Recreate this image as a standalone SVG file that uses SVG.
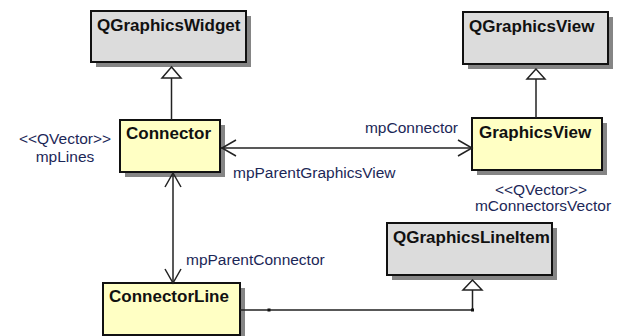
<svg xmlns="http://www.w3.org/2000/svg" width="624" height="336" viewBox="0 0 624 336">
<style>
.shadow{fill:#858585;stroke:none}
.qt{fill:#dcdcdc;stroke:#111;stroke-width:2}
.own{fill:#ffffc4;stroke:#111;stroke-width:2}
.name{font-family:"Liberation Sans",Arial,sans-serif;font-weight:bold;font-size:17px;fill:#111}
.lbl{font-family:"Liberation Sans",Arial,sans-serif;font-size:15.5px;fill:#1c2757}
.line{fill:none;stroke:#222;stroke-width:1.5}
.tri{fill:#fff;stroke:#222;stroke-width:1.5}
.dot{fill:#111}
</style>
<rect width="624" height="336" fill="#fff"/>
<g id="QGraphicsWidget">
<rect class="shadow" x="96" y="16" width="155" height="51"/>
<rect class="qt" x="91" y="11" width="155" height="51"/>
<text class="name" x="97" y="31">QGraphicsWidget</text>
</g>
<g id="QGraphicsView">
<rect class="shadow" x="468" y="17" width="145" height="52"/>
<rect class="qt" x="463" y="12" width="145" height="52"/>
<text class="name" x="469" y="32">QGraphicsView</text>
</g>
<g id="Connector">
<rect class="shadow" x="125" y="125" width="100" height="52"/>
<rect class="own" x="120" y="120" width="100" height="52"/>
<text class="name" x="126" y="139">Connector</text>
</g>
<g id="GraphicsView">
<rect class="shadow" x="477" y="123" width="130" height="52"/>
<rect class="own" x="472" y="118" width="130" height="52"/>
<text class="name" x="479" y="138">GraphicsView</text>
</g>
<g id="QGraphicsLineItem">
<rect class="shadow" x="392" y="228" width="165" height="52"/>
<rect class="qt" x="387" y="223" width="165" height="52"/>
<text class="name" x="393" y="243">QGraphicsLineItem</text>
</g>
<g id="ConnectorLine">
<rect class="shadow" x="108" y="288" width="137" height="52"/>
<rect class="own" x="103" y="283" width="137" height="52"/>
<text class="name" x="109" y="302">ConnectorLine</text>
</g>
<g id="connectors">
<!-- Connector -> QGraphicsWidget -->
<line class="line" x1="171.5" y1="120" x2="171.5" y2="78"/>
<polygon class="tri" points="171.5,67 162,78 181,78"/>
<!-- GraphicsView -> QGraphicsView -->
<line class="line" x1="536" y1="118" x2="536" y2="79"/>
<polygon class="tri" points="536,69 527,79 545,79"/>
<!-- Connector <-> GraphicsView -->
<line class="line" x1="221" y1="148" x2="472" y2="148"/>
<polyline class="line" points="236,140 222,148 236,156"/>
<polyline class="line" points="458,140 472,148 458,156"/>
<!-- Connector <-> ConnectorLine -->
<line class="line" x1="173" y1="173" x2="173" y2="283"/>
<polyline class="line" points="165,187 173,173 181,187"/>
<polyline class="line" points="165,269 173,283 181,269"/>
<!-- ConnectorLine -> QGraphicsLineItem -->
<polyline class="line" points="240,310 472.5,310 472.5,290"/>
<polygon class="tri" points="472.5,280 463,290 482,290"/>
<rect class="dot" x="267.5" y="308.5" width="3" height="3"/>
<rect class="dot" x="471" y="308.5" width="3" height="3"/>
</g>
<g id="labels">
<text class="lbl" x="65" y="144" text-anchor="middle">&lt;&lt;QVector&gt;&gt;</text>
<text class="lbl" x="65" y="162" text-anchor="middle">mpLines</text>
<text class="lbl" x="458" y="133" text-anchor="end">mpConnector</text>
<text class="lbl" x="233" y="178">mpParentGraphicsView</text>
<text class="lbl" x="186" y="265">mpParentConnector</text>
<text class="lbl" x="541" y="195" text-anchor="middle">&lt;&lt;QVector&gt;&gt;</text>
<text class="lbl" x="543" y="211" text-anchor="middle">mConnectorsVector</text>
</g>
</svg>
